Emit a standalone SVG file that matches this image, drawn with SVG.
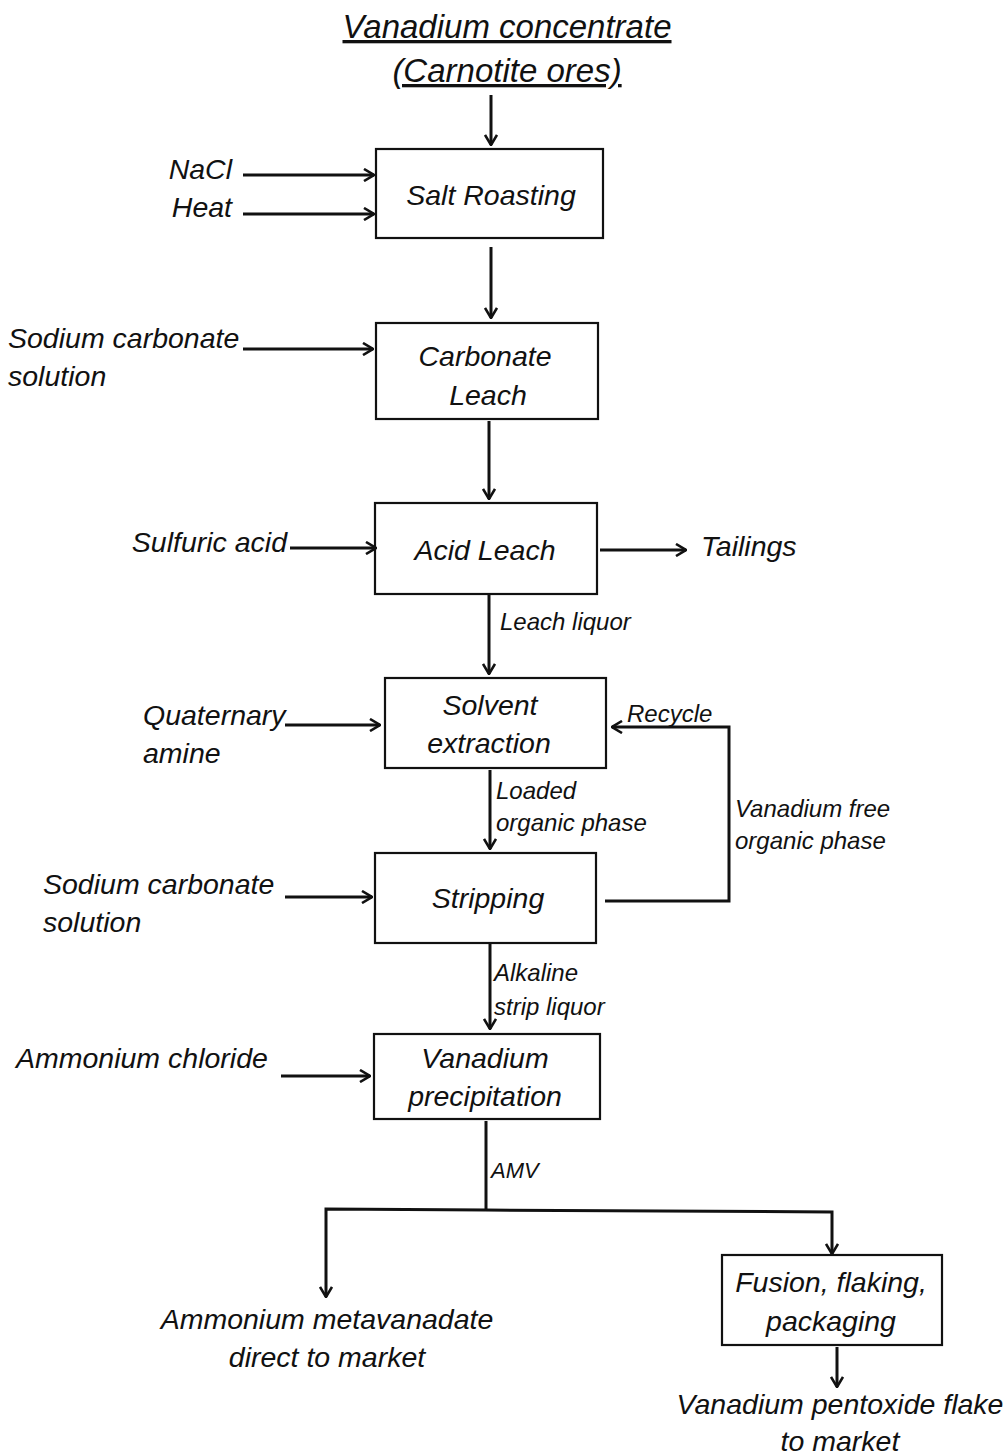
<svg xmlns="http://www.w3.org/2000/svg" width="1008" height="1455" viewBox="0 0 1008 1455">
  <defs>
    <marker id="arrow" viewBox="0 0 12 14" refX="11" refY="7" markerWidth="12" markerHeight="14" markerUnits="userSpaceOnUse" orient="auto">
      <path d="M1,1 L11,7 L1,13" fill="none" stroke="#111" stroke-width="2.6"/>
    </marker>
  </defs>
  <style>
    .box { fill: #fff; stroke: #111; stroke-width: 2.2; }
    .t { font-family: "Liberation Sans", Arial, sans-serif; font-style: italic; fill: #111; }
    .big { font-size: 28.5px; }
    .sm { font-size: 24px; }
    .c { text-anchor: middle; }
    .ln { fill: none; stroke: #111; stroke-width: 3; }
    .ar { fill: none; stroke: #111; stroke-width: 3; marker-end: url(#arrow); }
  </style>
  <rect width="1008" height="1455" fill="#fff"/>

  <!-- feed title -->
  <g id="feed">
    <text class="t c" x="507" y="38" font-size="33" text-decoration="underline">Vanadium concentrate</text>
    <text class="t c" x="507" y="82" font-size="33" text-decoration="underline">(Carnotite ores)</text>
  </g>

  <!-- process steps -->
  <g id="salt-roasting">
    <rect class="box" x="376" y="149" width="227" height="89"/>
    <text class="t big c" x="491" y="205">Salt Roasting</text>
  </g>
  <g id="carbonate-leach">
    <rect class="box" x="376" y="323" width="222" height="96"/>
    <text class="t big c" x="485" y="366">Carbonate</text>
    <text class="t big c" x="488" y="405">Leach</text>
  </g>
  <g id="acid-leach">
    <rect class="box" x="375" y="503" width="222" height="91"/>
    <text class="t big c" x="485" y="560">Acid Leach</text>
  </g>
  <g id="solvent-extraction">
    <rect class="box" x="385" y="678" width="221" height="90"/>
    <text class="t big c" x="490" y="715">Solvent</text>
    <text class="t big c" x="489" y="753">extraction</text>
  </g>
  <g id="stripping">
    <rect class="box" x="375" y="853" width="221" height="90"/>
    <text class="t big c" x="488" y="908">Stripping</text>
  </g>
  <g id="vanadium-precipitation">
    <rect class="box" x="374" y="1034" width="226" height="85"/>
    <text class="t big c" x="485" y="1068">Vanadium</text>
    <text class="t big c" x="485" y="1106">precipitation</text>
  </g>
  <g id="fusion">
    <rect class="box" x="722" y="1255" width="220" height="90"/>
    <text class="t big c" x="831" y="1292">Fusion, flaking,</text>
    <text class="t big c" x="831" y="1331">packaging</text>
  </g>

  <!-- reagents and products -->
  <g id="nacl"><text class="t big" x="232" y="179" text-anchor="end">NaCl</text></g>
  <g id="heat"><text class="t big" x="232" y="217" text-anchor="end">Heat</text></g>
  <g id="sodium-carbonate-1">
    <text class="t big" x="8" y="348">Sodium carbonate</text>
    <text class="t big" x="8" y="386">solution</text>
  </g>
  <g id="sulfuric-acid"><text class="t big" x="287" y="552" text-anchor="end">Sulfuric acid</text></g>
  <g id="tailings"><text class="t big" x="701" y="556">Tailings</text></g>
  <g id="quaternary-amine">
    <text class="t big" x="143" y="725">Quaternary</text>
    <text class="t big" x="143" y="763">amine</text>
  </g>
  <g id="sodium-carbonate-2">
    <text class="t big" x="43" y="894">Sodium carbonate</text>
    <text class="t big" x="43" y="932">solution</text>
  </g>
  <g id="ammonium-chloride"><text class="t big" x="16" y="1068">Ammonium chloride</text></g>
  <g id="amv-market">
    <text class="t big c" x="327" y="1329">Ammonium metavanadate</text>
    <text class="t big c" x="327" y="1367">direct to market</text>
  </g>
  <g id="v2o5-market">
    <text class="t big c" x="840" y="1414">Vanadium pentoxide flake</text>
    <text class="t big c" x="840" y="1451">to market</text>
  </g>

  <!-- connectors -->
  <g id="connectors">
    <line class="ar" x1="491" y1="95" x2="491" y2="145"/>
    <line class="ar" x1="243" y1="175" x2="374" y2="175"/>
    <line class="ar" x1="243" y1="214" x2="374" y2="214"/>
    <line class="ar" x1="491" y1="247" x2="491" y2="318"/>
    <line class="ar" x1="243" y1="349" x2="373" y2="349"/>
    <line class="ar" x1="489" y1="421" x2="489" y2="499"/>
    <line class="ar" x1="290" y1="548" x2="376" y2="548"/>
    <line class="ar" x1="600" y1="550" x2="686" y2="550"/>
    <line class="ar" x1="489" y1="595" x2="489" y2="674"/>
    <line class="ar" x1="285" y1="725" x2="380" y2="725"/>
    <line class="ar" x1="490" y1="770" x2="490" y2="849"/>
    <polyline class="ar" points="605,901 729,901 729,727 612,727"/>
    <line class="ar" x1="285" y1="897" x2="372" y2="897"/>
    <line class="ar" x1="490" y1="944" x2="490" y2="1029"/>
    <line class="ar" x1="281" y1="1076" x2="370" y2="1076"/>
    <line class="ln" x1="486" y1="1121" x2="486" y2="1210"/>
    <polyline class="ar" points="486,1210 326,1209 326,1297"/>
    <polyline class="ar" points="486,1210 832,1212 832,1254"/>
    <line class="ar" x1="837" y1="1347" x2="837" y2="1387"/>

    <text class="t sm" x="500" y="630">Leach liquor</text>
    <text class="t sm" x="627" y="722">Recycle</text>
    <text class="t sm" x="735" y="817">Vanadium free</text>
    <text class="t sm" x="735" y="849">organic phase</text>
    <text class="t sm" x="496" y="799">Loaded</text>
    <text class="t sm" x="496" y="831">organic phase</text>
    <text class="t sm" x="494" y="981">Alkaline</text>
    <text class="t sm" x="494" y="1015">strip liquor</text>
    <text class="t" x="491" y="1178" font-size="22">AMV</text>
  </g>
</svg>
